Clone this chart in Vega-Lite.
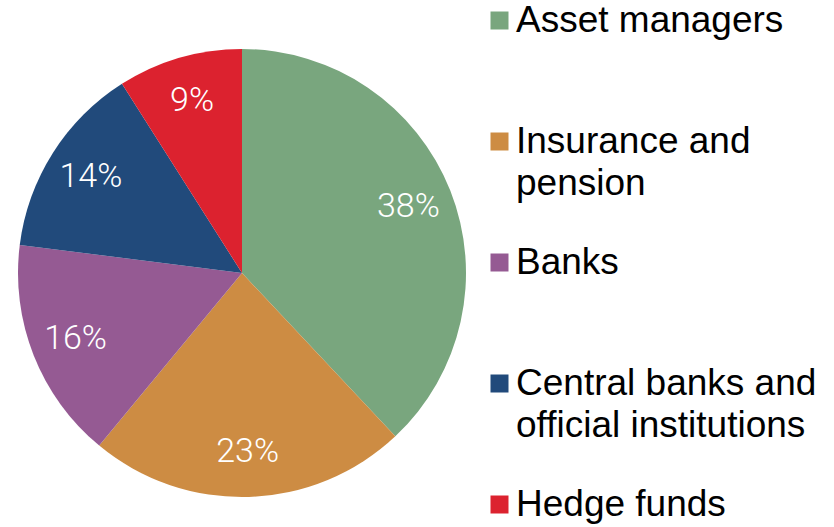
{
  "$schema": "https://vega.github.io/schema/vega-lite/v6.json",
  "width": 484,
  "height": 508,
  "padding": {"left": 0, "top": 19, "right": 350, "bottom": 0},
  "autosize": {"type": "none"},
  "background": "white",
  "view": {"stroke": null},
  "data": {
    "values": [
      {"sector": "Asset managers", "share": 38, "rank": 1, "label": "38%"},
      {"sector": "Insurance and pension", "share": 23, "rank": 2, "label": "23%"},
      {"sector": "Banks", "share": 16, "rank": 3, "label": "16%"},
      {"sector": "Central banks and official institutions", "share": 14, "rank": 4, "label": "14%"},
      {"sector": "Hedge funds", "share": 9, "rank": 5, "label": "9%"}
    ]
  },
  "encoding": {
    "theta": {"field": "share", "type": "quantitative", "stack": true},
    "order": {"field": "rank", "type": "quantitative"}
  },
  "layer": [
    {
      "mark": {"type": "arc", "outerRadius": 224},
      "encoding": {
        "color": {
          "field": "sector",
          "type": "nominal",
          "scale": {
            "domain": ["Asset managers", "Insurance and pension", "Banks", "Central banks and official institutions", "Hedge funds"],
            "range": ["#79A67E", "#CD8C43", "#955A93", "#214A7B", "#DC222F"]
          },
          "legend": {
            "orient": "none",
            "legendX": 481,
            "legendY": -17,
            "title": null,
            "symbolType": "square",
            "symbolSize": 324,
            "symbolStrokeWidth": 0,
            "labelFont": "Liberation Sans",
            "labelFontSize": 37,
            "labelColor": "black",
            "labelLimit": 400,
            "labelOffset": -2,
            "rowPadding": 41,
            "labelExpr": "datum.label == 'Insurance and pension' ? ['Insurance and', 'pension'] : datum.label == 'Central banks and official institutions' ? ['Central banks and', 'official institutions'] : [datum.label, '']",
            "encode": {"labels": {"update": {"lineHeight": {"value": 42}}}}
          }
        }
      }
    },
    {
      "mark": {"type": "text", "radius": 179, "fontSize": 34, "font": "Roboto", "fontWeight": 300, "fill": "white"},
      "encoding": {"text": {"field": "label"}}
    }
  ]
}
